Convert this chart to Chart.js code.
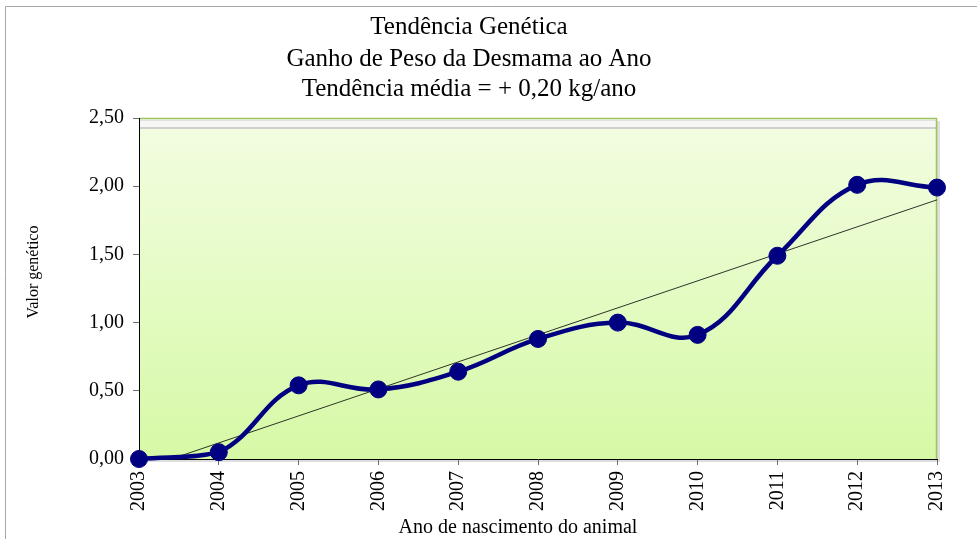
<!DOCTYPE html>
<html>
<head>
<meta charset="utf-8">
<script src="https://cdn.jsdelivr.net/npm/chart.js@4/dist/chart.umd.min.js"></script>
<style>
html,body{margin:0;padding:0;background:#fff;}
#wrap{width:977px;height:539px;position:relative;}
</style>
</head>
<body>
<div id="wrap"><canvas id="c" width="977" height="539"></canvas></div>
<script>
const years = ['2003','2004','2005','2006','2007','2008','2009','2010','2011','2012','2013'];
const geneticValues = [0.00, 0.05, 0.54, 0.51, 0.64, 0.88, 1.00, 0.91, 1.49, 2.01, 1.99];
const trendEnds = [-0.08, 1.90];
const titleLines = ['Tendência Genética', 'Ganho de Peso da Desmama ao Ano', 'Tendência média = + 0,20 kg/ano'];
const yTitle = 'Valor genético';
const xTitle = 'Ano de nascimento do animal';

const FONT = "'Liberation Serif', 'Times New Roman', serif";

const framePlugin = {
  id: 'frame',
  beforeDraw(chart) {
    const ctx = chart.ctx;
    const a = chart.chartArea;
    ctx.save();
    ctx.fillStyle = '#fff';
    ctx.fillRect(0, 0, chart.width, chart.height);
    // outer frame
    ctx.strokeStyle = '#a6a6a6';
    ctx.lineWidth = 1;
    ctx.beginPath();
    ctx.moveTo(5.5, chart.height);
    ctx.lineTo(5.5, 6.5);
    ctx.lineTo(chart.width, 6.5);
    ctx.stroke();
    // shadow
    ctx.fillStyle = '#dedede';
    ctx.fillRect(a.left + 3, a.top + 3, a.right - a.left, a.bottom - a.top);
    // gradient fill
    const g = ctx.createLinearGradient(0, a.top, 0, a.bottom);
    g.addColorStop(0, '#f3fde2');
    g.addColorStop(1, '#d6f9a6');
    ctx.fillStyle = g;
    ctx.fillRect(a.left, a.top, a.right - a.left, a.bottom - a.top);
    // top band lines
    ctx.fillStyle = '#f7f8f4';
    ctx.fillRect(a.left, a.top + 1, a.right - a.left, 9);
    ctx.strokeStyle = '#e2e2e2';
    ctx.beginPath();
    ctx.moveTo(a.left, a.top + 2.5);
    ctx.lineTo(a.right, a.top + 2.5);
    ctx.stroke();
    ctx.strokeStyle = '#cfcfcf';
    ctx.lineWidth = 2;
    ctx.beginPath();
    ctx.moveTo(a.left, a.top + 10);
    ctx.lineTo(a.right, a.top + 10);
    ctx.stroke();
    // green border top & right
    ctx.strokeStyle = '#9cc45a';
    ctx.lineWidth = 1.5;
    ctx.beginPath();
    ctx.moveTo(a.left, a.top + 0.5);
    ctx.lineTo(a.right - 0.5, a.top + 0.5);
    ctx.lineTo(a.right - 0.5, a.bottom);
    ctx.stroke();
    ctx.restore();
  },
  afterDraw(chart) {
    const ctx = chart.ctx;
    ctx.save();
    ctx.fillStyle = '#000';
    ctx.textAlign = 'center';
    ctx.textBaseline = 'alphabetic';
    ctx.font = '25px ' + FONT;
    const ys = [34, 66, 96];
    titleLines.forEach((t, i) => ctx.fillText(t, 469, ys[i]));
    ctx.font = '20px ' + FONT;
    ctx.fillText(xTitle, 518, 533);
    ctx.textBaseline = 'middle';
    ctx.font = '16px ' + FONT;
    ctx.translate(34, 272);
    ctx.rotate(-Math.PI / 2);
    ctx.fillText(yTitle, 0, 0);
    ctx.restore();
  }
};

new Chart(document.getElementById('c'), {
  type: 'line',
  data: {
    labels: years,
    datasets: [
      {
        data: geneticValues,
        borderColor: '#000080',
        backgroundColor: '#000080',
        borderWidth: 4.5,
        pointRadius: 8.5,
        pointBorderWidth: 1,
        pointBackgroundColor: '#000080',
        pointBorderColor: '#000080',
        tension: 0.4,
        clip: false,
        order: 0
      },
      {
        data: [{x: years[0], y: trendEnds[0]}, {x: years[years.length - 1], y: trendEnds[1]}],
        borderColor: '#000',
        borderWidth: 0.8,
        pointRadius: 0,
        tension: 0,
        clip: 0,
        order: 1
      }
    ]
  },
  options: {
    responsive: false,
    animation: false,
    events: [],
    layout: { padding: { left: 0, right: 40, top: 118, bottom: 0 } },
    plugins: { legend: { display: false }, title: { display: false }, tooltip: { enabled: false } },
    scales: {
      x: {
        type: 'category',
        offset: false,
        grid: { display: true, drawOnChartArea: false, drawTicks: true, tickLength: 6, tickColor: '#707070' },
        border: { display: true, color: '#000', width: 1 },
        ticks: {
          minRotation: 90, maxRotation: 90, autoSkip: false, padding: 6,
          color: '#000', font: { family: FONT, size: 20 }
        },
        afterFit(s) { s.height = 80; }
      },
      y: {
        min: 0, max: 2.5,
        grid: { display: true, drawOnChartArea: false, drawTicks: true, tickLength: 6, tickColor: '#707070' },
        border: { display: true, color: '#000', width: 1 },
        ticks: {
          stepSize: 0.5, padding: 9, color: '#000', font: { family: FONT, size: 20 },
          callback: v => v.toFixed(2).replace('.', ',')
        },
        afterFit(s) { s.width = 139; }
      }
    }
  },
  plugins: [framePlugin]
});
</script>
</body>
</html>
